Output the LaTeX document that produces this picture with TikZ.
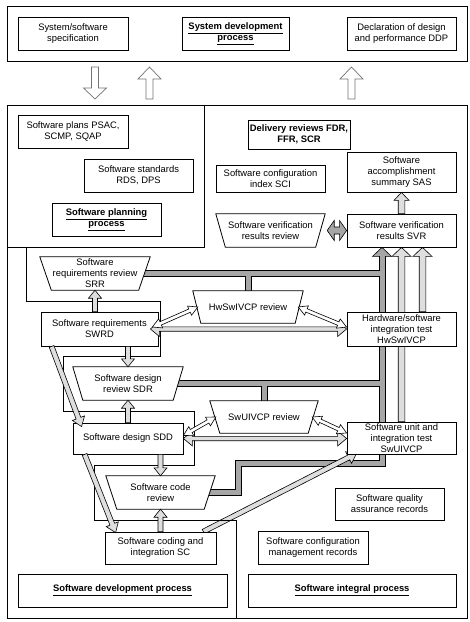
\documentclass[tikz,border=0pt]{standalone}
\usepackage{fontspec}
\setmainfont{Liberation Sans}
\usetikzlibrary{calc}
\pgfdeclarelayer{bg}
\pgfdeclarelayer{mid}
\pgfsetlayers{bg,mid,main}
\newcommand{\dfont}{\fontsize{9.4}{11}\selectfont}
% single block arrow: style, from, to, shaft half width, head half width, head length
\newcommand{\blkarrow}[6]{%
  \coordinate (ArP) at ($(#3)!#6!(#2)$);
  \path[#1] ($(#2)!#4!90:(#3)$) -- ($(ArP)!#4!90:(#3)$) -- ($(ArP)!#5!90:(#3)$) -- (#3)
    -- ($(ArP)!#5!-90:(#3)$) -- ($(ArP)!#4!-90:(#3)$) -- ($(#2)!#4!-90:(#3)$) -- cycle;}
% double block arrow
\newcommand{\dblkarrow}[6]{%
  \coordinate (ArP) at ($(#3)!#6!(#2)$);
  \coordinate (ArQ) at ($(#2)!#6!(#3)$);
  \path[#1] (#2) -- ($(ArQ)!#5!90:(#3)$) -- ($(ArQ)!#4!90:(#3)$) -- ($(ArP)!#4!90:(#3)$)
    -- ($(ArP)!#5!90:(#3)$) -- (#3) -- ($(ArP)!#5!-90:(#3)$) -- ($(ArP)!#4!-90:(#3)$)
    -- ($(ArQ)!#4!-90:(#3)$) -- ($(ArQ)!#5!-90:(#3)$) -- cycle;}
% inverted trapezium around a named node
\newcommand{\trapz}[2]{\draw[frame, fill=white] (#1.north west) -- (#1.north east) -- ([xshift=-#2]#1.south east) -- ([xshift=#2]#1.south west) -- cycle;}
\begin{document}
\begin{tikzpicture}[x=1pt,y=-1pt,
  every node/.style={font=\dfont},
  frame/.style={draw=black, line width=0.8pt},
  box/.style={frame, fill=white, inner sep=0pt, align=center},
  bbox/.style={box, font=\dfont\bfseries},
  tlabel/.style={inner sep=0pt, align=center},
  lgt/.style={draw=black, line width=0.6pt, fill=black!13},
  wht/.style={draw=black, line width=0.6pt, fill=white},
  drk/.style={draw=black, line width=0.6pt, fill=black!35},
  hol/.style={draw=black!55, line width=0.7pt, fill=white},
]
\useasboundingbox (0,0) rectangle (470,622);
\begin{pgfonlayer}{bg}
\fill[white] (0,0) rectangle (470,622);
\end{pgfonlayer}

% frames
\node[frame, inner sep=0pt, minimum width=460pt, minimum height=55pt] (top) at (237,33.5) {};
\node[frame, inner sep=0pt, minimum width=460pt, minimum height=513pt] (big) at (237,361.5) {};
\draw[frame] (7,247) -- (204,247) -- (204,105);
\draw[frame] (26,247) -- (26,301) -- (160,301) -- (160,356) -- (63,356) -- (63,411)
  -- (194,411) -- (194,465) -- (94,465) -- (94,520) -- (236,520) -- (236,618);

% nodes
\node[box, minimum width=110pt, minimum height=33pt] (sss) at (73,33.5) {System/software\\specification};
\node[bbox, minimum width=107pt, minimum height=33pt] (sdp) at (235.5,33.5) {\underline{System development}\\\underline{process}};
\node[box, minimum width=109pt, minimum height=33pt] (ddp) at (401.5,33.5) {Declaration of design\\and performance DDP};
\node[box, minimum width=110pt, minimum height=33pt] (psac) at (73,131.5) {Software plans PSAC,\\SCMP, SQAP};
\node[box, minimum width=109pt, minimum height=33pt] (rds) at (138.5,175.5) {Software standards\\RDS, DPS};
\node[bbox, minimum width=109pt, minimum height=33pt] (spp) at (106.5,219.5) {\underline{Software planning}\\\underline{process}};
\node[bbox, minimum width=102pt, minimum height=29pt] (dr) at (299,134.5) {Delivery reviews FDR,\\FFR, SCR};
\node[box, minimum width=109pt, minimum height=27pt] (sci) at (270.5,178.5) {Software configuration\\index SCI};
\node[box, minimum width=109pt, minimum height=40pt] (sas) at (401.5,172) {Software\\accomplishment\\summary SAS};
\node[tlabel, minimum width=109pt, minimum height=33pt] (vrr) at (270.5,230.5) {Software verification\\results review};
\node[box, minimum width=109pt, minimum height=33pt] (svr) at (401.5,230.5) {Software verification\\results SVR};
\node[tlabel, minimum width=110pt, minimum height=33pt] (srr) at (95,273.5) {Software\\requirements review\\SRR};
\node[tlabel, minimum width=110pt, minimum height=32pt] (hwr) at (248,307) {HwSwIVCP review};
\node[box, minimum width=117pt, minimum height=34pt] (swrd) at (99.5,329) {Software requirements\\SWRD};
\node[box, minimum width=109pt, minimum height=34pt] (hw) at (401.5,329) {Hardware/software\\integration test\\HwSwIVCP};
\node[tlabel, minimum width=110pt, minimum height=33pt] (sdr) at (128,383.5) {Software design\\review SDR};
\node[tlabel, minimum width=108pt, minimum height=32pt] (swr) at (264,417) {SwUIVCP review};
\node[box, minimum width=110pt, minimum height=31pt] (sdd) at (128,438.5) {Software design SDD};
\node[box, minimum width=109pt, minimum height=32pt] (swu) at (401.5,438) {Software unit and\\integration test\\SwUIVCP};
\node[tlabel, minimum width=109pt, minimum height=33pt] (scr) at (160.5,492.5) {Software code\\review};
\node[box, minimum width=111pt, minimum height=32pt] (sc) at (160.5,548) {Software coding and\\integration SC};
\node[box, minimum width=109pt, minimum height=32pt] (sqa) at (389.5,504) {Software quality\\assurance records};
\node[box, minimum width=110pt, minimum height=33pt] (scm) at (313,547.5) {Software configuration\\management records};
\node[bbox, minimum width=209pt, minimum height=33pt] (sdevp) at (122.5,590.5) {\underline{Software development process}};
\node[bbox, minimum width=208pt, minimum height=33pt] (sintp) at (352,590.5) {\underline{Software integral process}};

% trapezium outlines
\begin{pgfonlayer}{mid}
\trapz{vrr}{9.5pt}
\trapz{srr}{11.5pt}
\trapz{hwr}{8pt}
\trapz{sdr}{10pt}
\trapz{swr}{10pt}
\trapz{scr}{11pt}
\end{pgfonlayer}

% dark verification band
\coordinate (dk) at ([xshift=-19.5pt]svr.south);
\coordinate (dkb) at ([yshift=-9pt]dk);
\coordinate (dkc) at ([yshift=-8pt]dk);
\coordinate (s1) at ([xshift=-8pt]srr.east);
\coordinate (s2) at ([xshift=-8pt]sdr.east);
\coordinate (s3) at ([xshift=-8pt]scr.east);
\coordinate (k1) at (238,0);
\coordinate (k2) at (0,463);
\begin{pgfonlayer}{bg}
\draw[drk] (dk) -- ($(dkb)+(9.5,0)$) -- ($(dkb)+(-9.5,0)$) -- cycle;
\foreach \w/\c/\e in {7pt/black/dkb, 5pt/black!35/dkc}{
  \draw[line width=\w, draw=\c] (s1) -- (s1 -| dk);
  \draw[line width=\w, draw=\c] (hwr.north) -- (hwr.north |- s1);
  \draw[line width=\w, draw=\c] (s2) -- (s2 -| dk);
  \draw[line width=\w, draw=\c] (swr.north) -- (swr.north |- s2);
  \draw[line width=\w, draw=\c] (s3) -- (s3 -| k1) -- (k1 |- k2) -- (dk |- k2) -- (\e);
}
\end{pgfonlayer}

\coordinate (vra) at ([xshift=2pt]vrr.east);
\dblkarrow{drk}{vra}{svr.west}{3.5pt}{10pt}{7pt}

% light arrows between development and reviews
\coordinate (a1s) at (swrd.north -| srr.south);
\blkarrow{lgt}{a1s}{srr.south}{2.5pt}{6.5pt}{8pt}
\coordinate (a2s) at (swrd.south -| sdr.north);
\blkarrow{lgt}{a2s}{sdr.north}{2.5pt}{6.5pt}{8pt}
\blkarrow{lgt}{sdd.north}{sdr.south}{2.5pt}{6.5pt}{8pt}
\coordinate (a4s) at (sdd.south -| scr.north);
\blkarrow{lgt}{a4s}{scr.north}{2.5pt}{6.5pt}{8pt}
\blkarrow{lgt}{sc.north}{scr.south}{2.5pt}{6.5pt}{8pt}
\blkarrow{lgt}{svr.north}{sas.south}{3.3pt}{7.5pt}{8pt}

% arrows into SVR
\coordinate (a7s) at ([xshift=21pt]hw.north);
\coordinate (a7e) at ([xshift=21pt]svr.south);
\blkarrow{lgt}{a7s}{a7e}{3.3pt}{9.5pt}{9pt}
\begin{pgfonlayer}{mid}
\blkarrow{lgt}{swu.north}{svr.south}{3.3pt}{9.5pt}{9pt}
\coordinate (d3a) at ([xshift=-13pt]sc.north east);
\coordinate (d3b) at ([xshift=10pt,yshift=1pt]swu.south west);
\blkarrow{lgt}{d3a}{d3b}{2.5pt}{6.5pt}{9pt}
\end{pgfonlayer}

% diagonal arrows
\coordinate (d1a) at ([xshift=11pt]swrd.south west);
\coordinate (d1b) at ([xshift=9pt,yshift=-4pt]sdd.north west);
\blkarrow{lgt}{d1a}{d1b}{2.5pt}{6.5pt}{9pt}
\coordinate (d2a) at ([xshift=12pt]sdd.south west);
\coordinate (d2b) at ([xshift=11pt,yshift=-1pt]sc.north west);
\blkarrow{lgt}{d2a}{d2b}{2.5pt}{6.5pt}{9pt}

% big horizontal double arrows
\coordinate (g1a) at ([xshift=-8pt]swrd.east);
\dblkarrow{lgt}{g1a}{hw.west}{2.2pt}{7.5pt}{9pt}
\coordinate (g2b) at (sdd.east -| swu.west);
\dblkarrow{lgt}{sdd.east}{g2b}{2.2pt}{7.5pt}{9pt}

% white double arrows to/from reviews
\coordinate (w1a) at ([xshift=-6pt,yshift=2pt]swrd.east);
\coordinate (w1b) at ([xshift=5pt]hwr.west);
\coordinate (w2a) at ([xshift=-5pt]hwr.east);
\coordinate (w2b) at ([yshift=2pt]hw.west);
\coordinate (w3a) at ([yshift=3pt]sdd.east);
\coordinate (w3b) at ([xshift=6pt]swr.west);
\coordinate (w4a) at ([xshift=-6pt]swr.east);
\coordinate (w4b) at ([yshift=5pt]swu.west);
\dblkarrow{wht}{w1a}{w1b}{1.8pt}{5pt}{9pt}
\dblkarrow{wht}{w2a}{w2b}{1.8pt}{5pt}{9pt}
\dblkarrow{wht}{w3a}{w3b}{1.8pt}{5pt}{9pt}
\dblkarrow{wht}{w4a}{w4b}{1.8pt}{5pt}{9pt}

% hollow arrows between system and software levels
\coordinate (t1s) at (95,67);
\coordinate (t1e) at (95,99);
\coordinate (t2s) at (149.5,99);
\coordinate (t2e) at (149.5,67);
\coordinate (t3s) at (351.5,99);
\coordinate (t3e) at (351.5,67);
\blkarrow{hol}{t1s}{t1e}{3.5pt}{11.5pt}{11pt}
\blkarrow{hol}{t2s}{t2e}{3.5pt}{11.5pt}{12pt}
\blkarrow{hol}{t3s}{t3e}{3.5pt}{11.5pt}{12pt}
\end{tikzpicture}
\end{document}
